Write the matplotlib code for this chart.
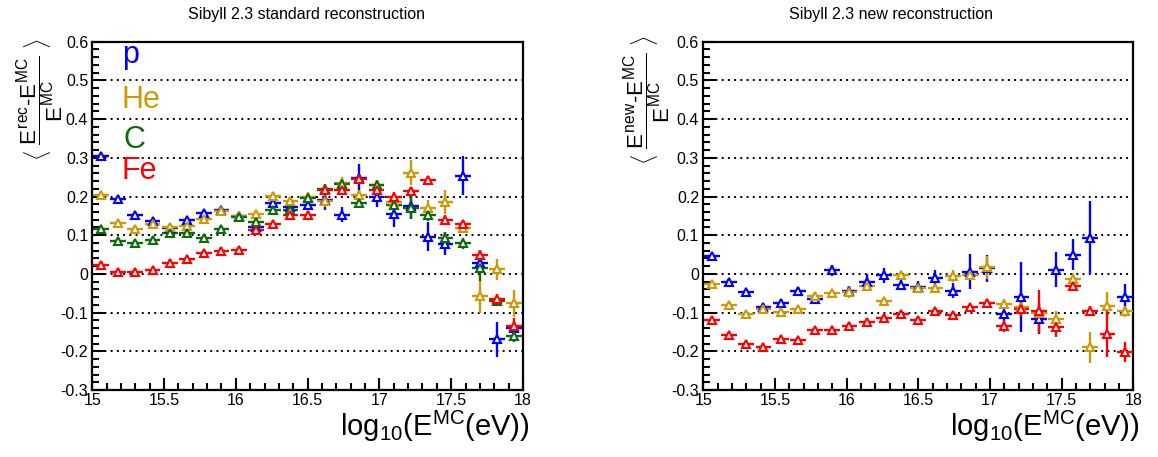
import numpy as np
import matplotlib
matplotlib.use("Agg")
import matplotlib.pyplot as plt
from matplotlib.ticker import MultipleLocator, FixedLocator, FixedFormatter

plt.rcParams['font.family'] = ['Liberation Sans', 'DejaVu Sans']
plt.rcParams['mathtext.fontset'] = 'custom'
plt.rcParams['mathtext.rm'] = 'Liberation Sans'
plt.rcParams['mathtext.it'] = 'Liberation Sans'
plt.rcParams['mathtext.bf'] = 'Liberation Sans:bold'

# 25 bins in log10(E) between 15 and 18
log_e = 15.0 + 0.12 * (np.arange(25) + 0.5)
x_half = 0.055

# standard reconstruction
p_std = [0.304, 0.194, 0.151, 0.136, 0.118, 0.140, 0.158, 0.166, 0.149, 0.120, 0.183, 0.172, 0.179,
         0.190, 0.153, 0.248, 0.199, 0.156, 0.175, 0.096, 0.078, 0.254, 0.029, -0.169, -0.139]
p_std_err = [0.008, 0.008, 0.008, 0.008, 0.008, 0.008, 0.008, 0.008, 0.008, 0.008, 0.010, 0.010, 0.012,
             0.025, 0.020, 0.037, 0.025, 0.035, 0.033, 0.037, 0.030, 0.050, 0.015, 0.045, 0.015]
he_std = [0.205, 0.132, 0.116, 0.128, 0.122, 0.125, 0.142, 0.162, 0.149, 0.156, 0.202, 0.188, 0.200,
          0.188, 0.235, 0.205, 0.231, 0.185, 0.262, 0.170, 0.186, 0.119, -0.057, 0.012, -0.076]
he_std_err = [0.008, 0.008, 0.008, 0.008, 0.008, 0.008, 0.008, 0.008, 0.008, 0.008, 0.010, 0.010, 0.012,
              0.015, 0.015, 0.012, 0.012, 0.015, 0.033, 0.020, 0.030, 0.012, 0.045, 0.027, 0.035]
c_std = [0.116, 0.085, 0.079, 0.087, 0.106, 0.106, 0.093, 0.115, 0.147, 0.134, 0.164, 0.166, 0.196,
         0.220, 0.233, 0.182, 0.231, 0.177, 0.171, 0.151, 0.093, 0.079, 0.016, -0.070, -0.160]
c_std_err = [0.008, 0.008, 0.008, 0.008, 0.008, 0.008, 0.008, 0.008, 0.008, 0.008, 0.010, 0.010, 0.012,
             0.012, 0.012, 0.012, 0.012, 0.015, 0.030, 0.015, 0.015, 0.015, 0.035, 0.012, 0.015]
fe_std = [0.022, 0.005, 0.005, 0.010, 0.029, 0.039, 0.055, 0.059, 0.063, 0.113, 0.128, 0.153, 0.153,
          0.216, 0.216, 0.245, 0.218, 0.199, 0.213, 0.243, 0.140, 0.128, 0.048, -0.064, -0.135]
fe_std_err = [0.008, 0.008, 0.008, 0.008, 0.008, 0.008, 0.008, 0.008, 0.008, 0.008, 0.008, 0.008, 0.010,
              0.010, 0.010, 0.010, 0.010, 0.012, 0.012, 0.010, 0.012, 0.012, 0.015, 0.012, 0.020]

# new reconstruction (no carbon)
p_new = [0.047, -0.020, -0.047, -0.086, -0.075, -0.043, -0.064, 0.009, -0.045, -0.020, -0.004, -0.028,
         -0.034, -0.011, -0.043, 0.006, 0.015, -0.103, -0.060, -0.116, 0.011, 0.049, 0.094, np.nan, -0.060]
p_new_err = [0.008, 0.008, 0.008, 0.008, 0.008, 0.008, 0.008, 0.015, 0.015, 0.020, 0.020, 0.012,
             0.015, 0.020, 0.020, 0.045, 0.035, 0.020, 0.090, 0.040, 0.045, 0.040, 0.095, 0.0, 0.035]
he_new = [-0.026, -0.080, -0.103, -0.090, -0.099, -0.090, -0.056, -0.049, -0.046, -0.030, -0.071, -0.004,
          -0.036, -0.037, -0.006, -0.004, 0.017, -0.077, -0.086, -0.100, -0.116, -0.013, -0.189, -0.082, -0.097]
he_new_err = [0.008, 0.008, 0.008, 0.008, 0.008, 0.008, 0.008, 0.008, 0.015, 0.010, 0.010, 0.010,
              0.010, 0.010, 0.015, 0.012, 0.030, 0.012, 0.020, 0.012, 0.020, 0.015, 0.040, 0.035, 0.015]
fe_new = [-0.118, -0.159, -0.180, -0.189, -0.168, -0.172, -0.146, -0.146, -0.135, -0.123, -0.114, -0.103,
          -0.120, -0.095, -0.106, -0.086, -0.075, -0.135, -0.090, -0.097, -0.137, -0.030, -0.095, -0.156, -0.202]
fe_new_err = [0.008, 0.008, 0.008, 0.008, 0.008, 0.008, 0.008, 0.008, 0.008, 0.008, 0.008, 0.008,
              0.008, 0.008, 0.008, 0.008, 0.008, 0.015, 0.020, 0.055, 0.025, 0.015, 0.012, 0.060, 0.025]

col = {'p': '#0000ff', 'He': '#cc9a06', 'C': '#0b6b0b', 'Fe': '#ff0000'}

y_ticks = [-0.3, -0.2, -0.1, 0.0, 0.1, 0.2, 0.3, 0.4, 0.5, 0.6]
y_tick_labels = ['-0.3', '-0.2', '-0.1', '0', '0.1', '0.2', '0.3', '0.4', '0.5', '0.6']
x_ticks = [15, 15.5, 16, 16.5, 17, 17.5, 18]
x_tick_labels = ['15', '15.5', '16', '16.5', '17', '17.5', '18']

fig = plt.figure(figsize=(11.58, 4.57), dpi=100)
ax1 = fig.add_axes([0.0797, 0.1466, 0.3719, 0.7621])
ax2 = fig.add_axes([0.6073, 0.1466, 0.3713, 0.7621])


def style_axes(ax):
    ax.set_xlim(15, 18)
    ax.set_ylim(-0.3, 0.6)
    for g in y_ticks[1:-1]:
        ax.axhline(g, color='black', lw=1.4, ls=(0, (1, 2.2)), zorder=0)
    ax.yaxis.set_major_locator(FixedLocator(y_ticks))
    ax.yaxis.set_major_formatter(FixedFormatter(y_tick_labels))
    ax.xaxis.set_major_locator(FixedLocator(x_ticks))
    ax.xaxis.set_major_formatter(FixedFormatter(x_tick_labels))
    ax.xaxis.set_minor_locator(MultipleLocator(0.1))
    ax.yaxis.set_minor_locator(MultipleLocator(0.02))
    ax.tick_params(which='both', direction='in', top=False, right=False, width=1.5)
    ax.tick_params(which='major', length=9)
    ax.tick_params(which='minor', length=5)
    ax.tick_params(axis='y', labelsize=11.5, pad=3)
    ax.tick_params(axis='x', labelsize=11.5, pad=2)
    for s in ax.spines.values():
        s.set_linewidth(1.6)


def draw(ax, vals, errs, c):
    ax.errorbar(log_e, vals, yerr=errs, xerr=x_half, fmt='^', ms=6, mfc='white', mec=c,
                mew=1.5, ecolor=c, elinewidth=1.7, capsize=0, zorder=3)


draw(ax1, p_std, p_std_err, col['p'])
draw(ax1, he_std, he_std_err, col['He'])
draw(ax1, c_std, c_std_err, col['C'])
draw(ax1, fe_std, fe_std_err, col['Fe'])

draw(ax2, p_new, p_new_err, col['p'])
draw(ax2, he_new, he_new_err, col['He'])
draw(ax2, fe_new, fe_new_err, col['Fe'])

for ax in (ax1, ax2):
    style_axes(ax)

# species labels
ax1.text(15.205, 0.545, 'p', color=col['p'], fontsize=22)
ax1.text(15.205, 0.429, 'He', color=col['He'], fontsize=22)
ax1.text(15.215, 0.326, 'C', color=col['C'], fontsize=22)
ax1.text(15.205, 0.244, 'Fe', color=col['Fe'], fontsize=22)

fig.text(307 / 1158, 1 - 19.5 / 457, 'Sibyll 2.3 standard reconstruction', ha='center',
         va='baseline', fontsize=11.5)
fig.text(891 / 1158, 1 - 19.5 / 457, 'Sibyll 2.3 new reconstruction', ha='center',
         va='baseline', fontsize=11.5)

xlab = r'log$_{10}$(E$^{MC}$(eV))'
fig.text(530 / 1158, 1 - 436 / 457, xlab, ha='right', va='baseline', fontsize=21)
fig.text(1140 / 1158, 1 - 436 / 457, xlab, ha='right', va='baseline', fontsize=21)

ylab1 = r'$\langle\ \dfrac{E^{rec}\text{-}E^{MC}}{E^{MC}}\ \rangle$'
ylab2 = r'$\langle\ \dfrac{E^{new}\text{-}E^{MC}}{E^{MC}}\ \rangle$'
fig.text(40 / 1158, 1 - 100 / 457, ylab1, rotation=90, ha='center', va='center', fontsize=16)
fig.text(647 / 1158, 1 - 100 / 457, ylab2, rotation=90, ha='center', va='center', fontsize=16)

fig.savefig('out.png', dpi=100)
